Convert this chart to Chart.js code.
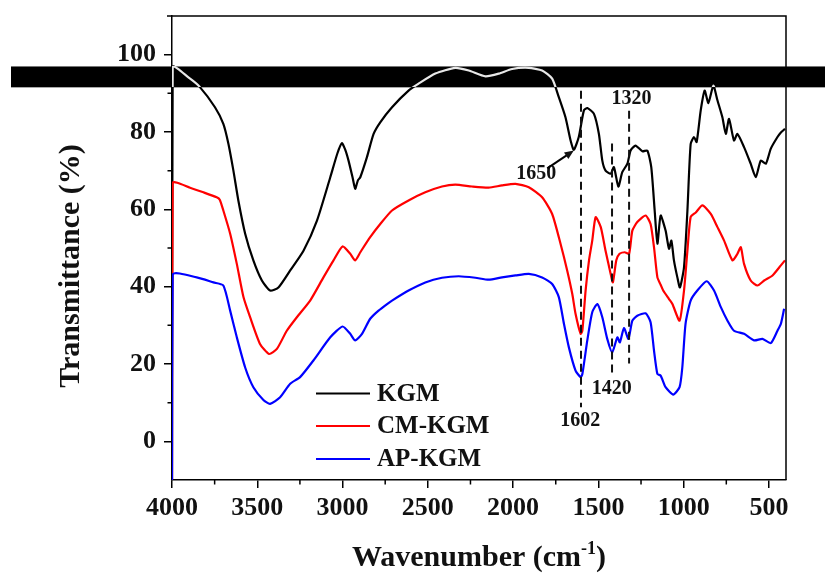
<!DOCTYPE html>
<html>
<head>
<meta charset="utf-8">
<script src="https://cdn.jsdelivr.net/npm/chart.js@4.4.1/dist/chart.umd.min.js"></script>
<style>
  html, body { margin: 0; padding: 0; background: #fff; }
  canvas { display: block; }
</style>
</head>
<body>
<canvas id="ftirChart" width="825" height="573"></canvas>
<script>
// series labels and colours
var seriesNames = ["KGM", "CM-KGM", "AP-KGM"];
var seriesColors = ["#000000", "#ff0000", "#0000ff"];

// KGM spectrum (wavenumber, transmittance %)
var kgmWn = [4000, 3996, 3900, 3840, 3748, 3699, 3669, 3640, 3611, 3571, 3523, 3473, 3425, 3376, 3307, 3229, 3150, 3072, 3030, 3004, 2985, 2965, 2940, 2926, 2910, 2896, 2857, 2818, 2779, 2710, 2613, 2554, 2456, 2339, 2260, 2162, 2084, 2006, 1908, 1830, 1771, 1732, 1693, 1663, 1644, 1615, 1585, 1565, 1526, 1497, 1477, 1458, 1428, 1409, 1383, 1360, 1330, 1311, 1282, 1242, 1213, 1190, 1170, 1154, 1135, 1106, 1086, 1072, 1057, 1037, 1022, 998, 978, 959, 939, 924, 900, 877, 855, 826, 802, 773, 753, 734, 705, 685, 646, 607, 577, 548, 518, 489, 450, 430, 406];
var kgmT = [-10, 96.8, 94, 91.8, 86.4, 82.1, 76.9, 70.0, 62.3, 53.7, 46.8, 41.6, 39.0, 39.8, 44.2, 49.3, 57.1, 68.3, 74.5, 77.1, 75.5, 72.6, 68, 65.3, 67.5, 68.3, 73.5, 79.5, 82.5, 86.4, 90.7, 92.5, 95.1, 96.6, 95.9, 94.4, 95.1, 96.3, 96.6, 95.9, 93.8, 89.0, 83.8, 77.8, 75.4, 78.7, 85.6, 86.2, 84.7, 79.5, 72.6, 70.0, 69.2, 70.9, 65.9, 69.6, 71.8, 75.2, 76.5, 75.0, 75.2, 70.9, 59.7, 51.1, 58.4, 54.5, 49.8, 51.9, 46.8, 42.4, 39.8, 45.0, 59.7, 76.9, 78.7, 77.4, 85.6, 90.7, 87.5, 92.0, 88.2, 83.8, 79.5, 83.4, 77.8, 79.5, 76.1, 71.8, 68.3, 72.6, 71.8, 75.7, 78.7, 79.9, 80.8];

// CM-KGM spectrum
var cmWn = [4000, 3996, 3894, 3816, 3738, 3720, 3699, 3659, 3620, 3581, 3542, 3484, 3431, 3385, 3327, 3268, 3190, 3112, 3053, 3000, 2955, 2926, 2896, 2838, 2779, 2710, 2613, 2515, 2417, 2339, 2241, 2143, 2065, 1986, 1908, 1830, 1771, 1722, 1683, 1653, 1634, 1604, 1594, 1575, 1555, 1536, 1516, 1486, 1458, 1428, 1415, 1395, 1376, 1346, 1320, 1301, 1272, 1223, 1194, 1174, 1154, 1135, 1120, 1086, 1066, 1024, 998, 978, 959, 929, 890, 841, 802, 763, 714, 685, 665, 646, 607, 567, 528, 479, 430, 406];
var cmT = [-10, 66.8, 65.6, 64.4, 63.1, 62.5, 59.7, 53.7, 45.9, 37.3, 32.1, 25.2, 22.6, 23.9, 28.6, 32.1, 36.4, 42.4, 46.8, 50.4, 48.5, 46.8, 48.9, 52.8, 56.2, 59.7, 62.3, 64.4, 65.9, 66.4, 65.9, 65.6, 66.2, 66.6, 65.7, 63.1, 58.8, 51.1, 44.2, 38.1, 33.0, 27.8, 28.6, 39.0, 46.8, 51.9, 58.0, 55.4, 49.3, 43.3, 41.1, 46.8, 48.5, 48.9, 48.5, 54.5, 56.7, 58.4, 56.2, 50.2, 42.4, 40.5, 39, 36.8, 35.5, 31.2, 39.0, 49.3, 58.0, 59.2, 61.0, 58.8, 55.4, 51.9, 46.8, 48.5, 50.2, 45.9, 41.6, 40.3, 41.6, 42.9, 45.5, 46.8];

// AP-KGM spectrum
var apWn = [4000, 3996, 3855, 3757, 3699, 3659, 3620, 3571, 3523, 3464, 3425, 3366, 3307, 3249, 3171, 3072, 3000, 2955, 2926, 2886, 2838, 2789, 2739, 2710, 2613, 2515, 2417, 2319, 2221, 2143, 2065, 1986, 1908, 1830, 1771, 1732, 1702, 1673, 1634, 1604, 1594, 1565, 1536, 1506, 1477, 1448, 1419, 1389, 1374, 1350, 1324, 1301, 1272, 1223, 1194, 1174, 1154, 1135, 1106, 1061, 1024, 1008, 989, 959, 920, 865, 822, 782, 743, 705, 646, 587, 538, 489, 450, 430, 411];
var apT = [-10, 43.1, 42.4, 41.1, 40.3, 33.8, 26.9, 19.1, 14.0, 10.7, 9.7, 11.4, 14.9, 16.6, 20.9, 26.9, 29.7, 27.8, 26.1, 27.8, 31.7, 33.8, 35.5, 36.4, 39.0, 41.1, 42.3, 42.7, 42.3, 41.8, 42.4, 42.9, 43.3, 42.4, 40.7, 37.3, 30.4, 24.3, 18.3, 16.6, 17.4, 26.1, 33.4, 35.5, 32.1, 26.5, 23.0, 26.9, 25.6, 29.3, 26.5, 31.2, 32.5, 33.1, 30.8, 23.5, 17.4, 17.0, 14.0, 12.1, 14.0, 19.1, 30.4, 36.4, 39.0, 41.4, 39.0, 34.7, 31.2, 28.6, 27.8, 26.1, 26.5, 25.4, 28.6, 30.4, 34.3];

// dashed marker lines
var markWn = [1602, 1420, 1320];
var markTop = [90.7, 77.0, 85.5];
var markBottom = [8.8, 17.0, 20.1];

// peak annotations: text, wavenumber, transmittance
var noteText = ["1650", "1320", "1420", "1602"];
var noteWn = [1864, 1306, 1421, 1606];
var noteT = [69.3, 88.6, 13.6, 5.4];
var arrowFrom = [1800, 70.6];
var arrowTo = [1644, 75.2];

// axis ticks
var xTicks = [4000, 3500, 3000, 2500, 2000, 1500, 1000, 500];
var xMinor = [3750, 3250, 2750, 2250, 1750, 1250, 750];
var yTicks = [0, 20, 40, 60, 80, 100];
var yMinor = [10, 30, 50, 70, 90];

// black band across the top (transmittance range)
var bandTop = 96.95;
var bandBottom = 91.55;

var serif = "'Liberation Serif', 'Times New Roman', serif";

function toPoints(wn, t) {
    return wn.map(function (w, i) { return { x: w, y: t[i] }; });
}

function kgmColor(context) {
    var chart = context.chart;
    var ys = chart.scales && chart.scales.y;
    if (!ys || !chart.chartArea) return "#000";
    var h = chart.height;
    var f1 = ys.getPixelForValue(bandTop) / h;
    var f2 = ys.getPixelForValue(bandBottom) / h;
    var g = chart.ctx.createLinearGradient(0, 0, 0, h);
    g.addColorStop(0, "#000");
    g.addColorStop(f1, "#000");
    g.addColorStop(f1, "#e8e8e8");
    g.addColorStop(f2, "#e8e8e8");
    g.addColorStop(f2, "#000");
    g.addColorStop(1, "#000");
    return g;
}

var datasets = [
    { label: seriesNames[0], data: toPoints(kgmWn, kgmT), borderColor: kgmColor, order: 3 },
    { label: seriesNames[1], data: toPoints(cmWn, cmT), borderColor: seriesColors[1], order: 2 },
    { label: seriesNames[2], data: toPoints(apWn, apT), borderColor: seriesColors[2], order: 1 }
];
markWn.forEach(function (w, i) {
    datasets.push({
        label: "mark" + w,
        data: [{ x: w, y: markTop[i] }, { x: w, y: markBottom[i] }],
        borderColor: "#111",
        borderWidth: 2,
        borderDash: [8, 5],
        tension: 0,
        order: 0
    });
});

var decor = {
    id: "decor",
    beforeDatasetsDraw: function (chart) {
        var ctx = chart.ctx, ys = chart.scales.y;
        var y1 = ys.getPixelForValue(bandTop), y2 = ys.getPixelForValue(bandBottom);
        ctx.save();
        ctx.fillStyle = "#000";
        ctx.fillRect(11, y1, chart.width - 11, y2 - y1);
        ctx.restore();
    },
    afterDraw: function (chart) {
        var ctx = chart.ctx, xs = chart.scales.x, ys = chart.scales.y, a = chart.chartArea;
        ctx.save();
        ctx.strokeStyle = "#000";
        ctx.lineWidth = 1.5;

        // top and right frame
        ctx.beginPath();
        ctx.moveTo(a.left - 5, a.top);
        ctx.lineTo(a.right, a.top);
        ctx.lineTo(a.right, a.bottom);
        ctx.stroke();

        // minor ticks
        ctx.beginPath();
        xMinor.forEach(function (v) {
            var px = xs.getPixelForValue(v);
            ctx.moveTo(px, a.bottom);
            ctx.lineTo(px, a.bottom + 4.5);
        });
        yMinor.forEach(function (v) {
            var py = ys.getPixelForValue(v);
            ctx.moveTo(a.left, py);
            ctx.lineTo(a.left - 4.5, py);
        });
        ctx.stroke();

        // peak labels
        ctx.fillStyle = "#111";
        ctx.font = "bold 20px " + serif;
        ctx.textAlign = "center";
        ctx.textBaseline = "middle";
        noteText.forEach(function (t, i) {
            ctx.fillText(t, xs.getPixelForValue(noteWn[i]), ys.getPixelForValue(noteT[i]));
        });

        // arrow to 1650
        var ax1 = xs.getPixelForValue(arrowFrom[0]), ay1 = ys.getPixelForValue(arrowFrom[1]);
        var ax2 = xs.getPixelForValue(arrowTo[0]), ay2 = ys.getPixelForValue(arrowTo[1]);
        var ang = Math.atan2(ay2 - ay1, ax2 - ax1);
        ctx.lineWidth = 2;
        ctx.beginPath();
        ctx.moveTo(ax1, ay1);
        ctx.lineTo(ax2 - 6 * Math.cos(ang), ay2 - 6 * Math.sin(ang));
        ctx.stroke();
        ctx.beginPath();
        ctx.moveTo(ax2, ay2);
        ctx.lineTo(ax2 - 10 * Math.cos(ang - 0.4), ay2 - 10 * Math.sin(ang - 0.4));
        ctx.lineTo(ax2 - 10 * Math.cos(ang + 0.4), ay2 - 10 * Math.sin(ang + 0.4));
        ctx.closePath();
        ctx.fill();

        // legend
        ctx.font = "bold 25px " + serif;
        ctx.textAlign = "left";
        ctx.lineWidth = 2;
        var lx = a.left + 144;
        [393.5, 426, 459].forEach(function (ly, i) {
            ctx.strokeStyle = seriesColors[i];
            ctx.beginPath();
            ctx.moveTo(lx, ly);
            ctx.lineTo(lx + 54, ly);
            ctx.stroke();
            ctx.fillStyle = "#111";
            ctx.fillText(seriesNames[i], lx + 61, ly + 1);
        });

        // x axis title with superscript
        ctx.fillStyle = "#111";
        ctx.textBaseline = "alphabetic";
        var big = "bold 30px " + serif, small = "bold 18px " + serif;
        var p1 = "Wavenumber (cm", p2 = "-1", p3 = ")";
        ctx.font = big;
        var w1 = ctx.measureText(p1).width, w3 = ctx.measureText(p3).width;
        ctx.font = small;
        var w2 = ctx.measureText(p2).width;
        var sx = (a.left + a.right) / 2 - (w1 + w2 + w3) / 2, base = 566;
        ctx.font = big;
        ctx.fillText(p1, sx, base);
        ctx.font = small;
        ctx.fillText(p2, sx + w1, base - 12);
        ctx.font = big;
        ctx.fillText(p3, sx + w1 + w2, base);

        // y axis title
        ctx.translate(71, 266);
        ctx.rotate(-Math.PI / 2);
        ctx.textAlign = "center";
        ctx.textBaseline = "middle";
        ctx.fillText("Transmittance (%)", 0, 0);
        ctx.restore();
    }
};

var tickFont = { family: serif, size: 26, weight: "bold" };

var ctx = document.getElementById("ftirChart").getContext("2d");
new Chart(ctx, {
    type: "line",
    data: { datasets: datasets },
    options: {
        responsive: false,
        animation: false,
        layout: { padding: { left: 0, right: 39, top: 16, bottom: 0 } },
        plugins: { legend: { display: false }, tooltip: { enabled: false } },
        elements: {
            point: { radius: 0 },
            line: { tension: 0.2, borderWidth: 2.2, fill: false }
        },
        scales: {
            x: {
                type: "linear",
                reverse: true,
                min: 400,
                max: 4000,
                afterBuildTicks: function (s) { s.ticks = xTicks.map(function (v) { return { value: v }; }); },
                afterFit: function (s) { s.height = 93; s.paddingLeft = 0; s.paddingRight = 0; },
                grid: { drawOnChartArea: false, drawTicks: true, tickLength: 8, color: "#000", lineWidth: 1.5 },
                border: { display: true, color: "#000", width: 1.5 },
                ticks: {
                    color: "#111", font: tickFont, padding: 5, maxRotation: 0, autoSkip: false,
                    callback: function (v) { return String(v); }
                }
            },
            y: {
                min: -10,
                max: 110,
                afterBuildTicks: function (s) { s.ticks = yTicks.map(function (v) { return { value: v }; }); },
                afterFit: function (s) { s.width = 172; s.paddingTop = 0; s.paddingBottom = 0; },
                grid: { drawOnChartArea: false, drawTicks: true, tickLength: 8, color: "#000", lineWidth: 1.5 },
                border: { display: true, color: "#000", width: 1.5 },
                ticks: { color: "#111", font: tickFont, padding: 8 }
            }
        }
    },
    plugins: [decor]
});
</script>
</body>
</html>
